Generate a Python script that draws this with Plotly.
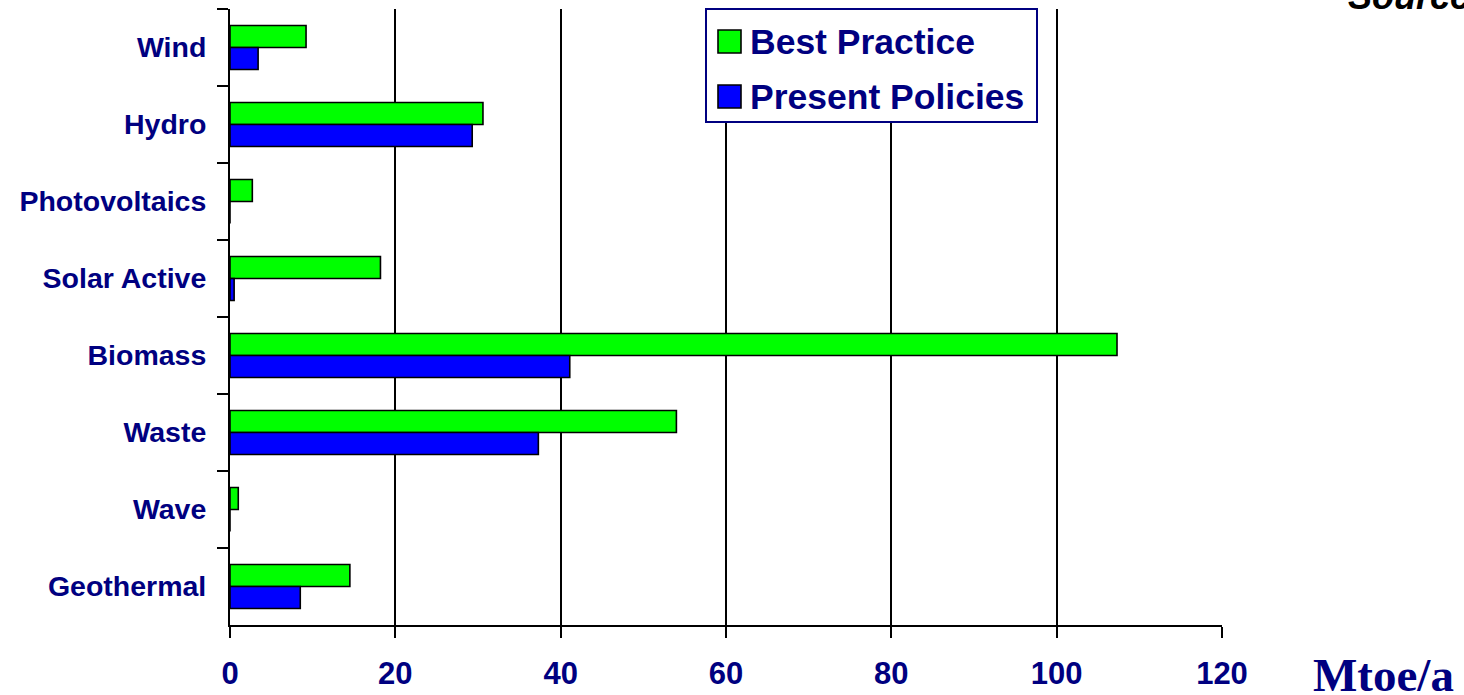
import plotly.graph_objects as go

categories = ["Wind", "Hydro", "Photovoltaics", "Solar Active", "Biomass", "Waste", "Wave", "Geothermal"]
best_practice = [9.2, 30.6, 2.7, 18.2, 107.3, 54.0, 1.0, 14.5]
present_policies = [3.4, 29.3, 0.0, 0.5, 41.1, 37.3, 0.0, 8.5]
series_names = ["Best Practice", "Present Policies"]
series_colors = ["#00FF00", "#0000FF"]
x_ticks = [0, 20, 40, 60, 80, 100, 120]
unit_label = "Mtoe/a"
source_label = "Source:"

NAVY = "#000080"
SANS = "Liberation Sans, Arial, sans-serif"
SERIF = "Liberation Serif, Times New Roman, serif"

W, H = 1464, 695
ML, MR, MT, MB = 230, 242, 9, 70
PW, PH = W - ML - MR, H - MT - MB


def px(xp):
    return (xp - ML) / PW


def py(yp):
    return (H - MB - yp) / PH


fig = go.Figure()
for name, vals, col in zip(series_names, [best_practice, present_policies], series_colors):
    fig.add_trace(go.Bar(
        y=categories, x=vals, name=name, orientation="h",
        marker=dict(color=col, line=dict(color="black", width=1.6)),
        showlegend=False,
    ))

fig.update_layout(
    width=W, height=H,
    margin=dict(l=ML, r=MR, t=MT, b=MB, pad=0, autoexpand=False),
    paper_bgcolor="white", plot_bgcolor="white",
    barmode="group", bargap=0.43, bargroupgap=0.0,
    showlegend=False,
    font=dict(family=SANS, color=NAVY),
)

fig.update_xaxes(
    range=[0, 120], tickvals=x_ticks, ticktext=[str(v) for v in x_ticks],
    showgrid=True, gridcolor="black", gridwidth=2, automargin=False,
    zeroline=False, showline=True, linecolor="black", linewidth=2,
    ticks="outside", ticklen=11, tickwidth=2, tickcolor="black",
    tickfont=dict(family=SANS, size=31, color=NAVY, weight="bold"),
    ticklabelstandoff=9,
)
fig.update_yaxes(
    type="category", categoryorder="array", categoryarray=categories,
    autorange="reversed", automargin=False,
    showgrid=False, zeroline=False, showline=True, linecolor="black", linewidth=2,
    ticks="outside", ticklen=11, tickwidth=2, tickcolor="black", tickson="boundaries",
    tickfont=dict(family=SANS, size=28.5, color=NAVY, weight="bold"),
    ticklabelstandoff=16,
)

# Legend box (drawn manually to match the large swatches)
shapes = [
    dict(type="rect", xref="paper", yref="paper", x0=px(706), x1=px(1037), y0=py(122), y1=py(9),
         line=dict(color=NAVY, width=2), fillcolor="white", layer="above"),
]
swatch_rows = [(30, 53), (85, 108)]
annotations = []
for (t, b), name, col in zip(swatch_rows, series_names, series_colors):
    shapes.append(dict(type="rect", xref="paper", yref="paper", x0=px(718), x1=px(741), y0=py(b), y1=py(t),
                       line=dict(color="black", width=1.6), fillcolor=col, layer="above"))
    annotations.append(dict(xref="paper", yref="paper", x=px(748), y=py((t + b) / 2),
                            xanchor="left", yanchor="middle", showarrow=False, text=name,
                            font=dict(family=SANS, size=35.5, color=NAVY, weight="bold")))

annotations.append(dict(xref="paper", yref="paper", x=px(1311), y=py(675),
                        xanchor="left", yanchor="middle", showarrow=False, text=unit_label,
                        font=dict(family=SERIF, size=47, color=NAVY, weight="bold")))
annotations.append(dict(xref="paper", yref="paper", x=px(1346), y=py(19),
                        xanchor="left", yanchor="bottom", showarrow=False, text=source_label,
                        font=dict(family=SANS, size=36, color="black", weight="bold", style="italic")))

fig.update_layout(shapes=shapes, annotations=annotations)

fig.write_html("out.html", config={"displayModeBar": False},
               post_script="document.body.style.margin='0';")
